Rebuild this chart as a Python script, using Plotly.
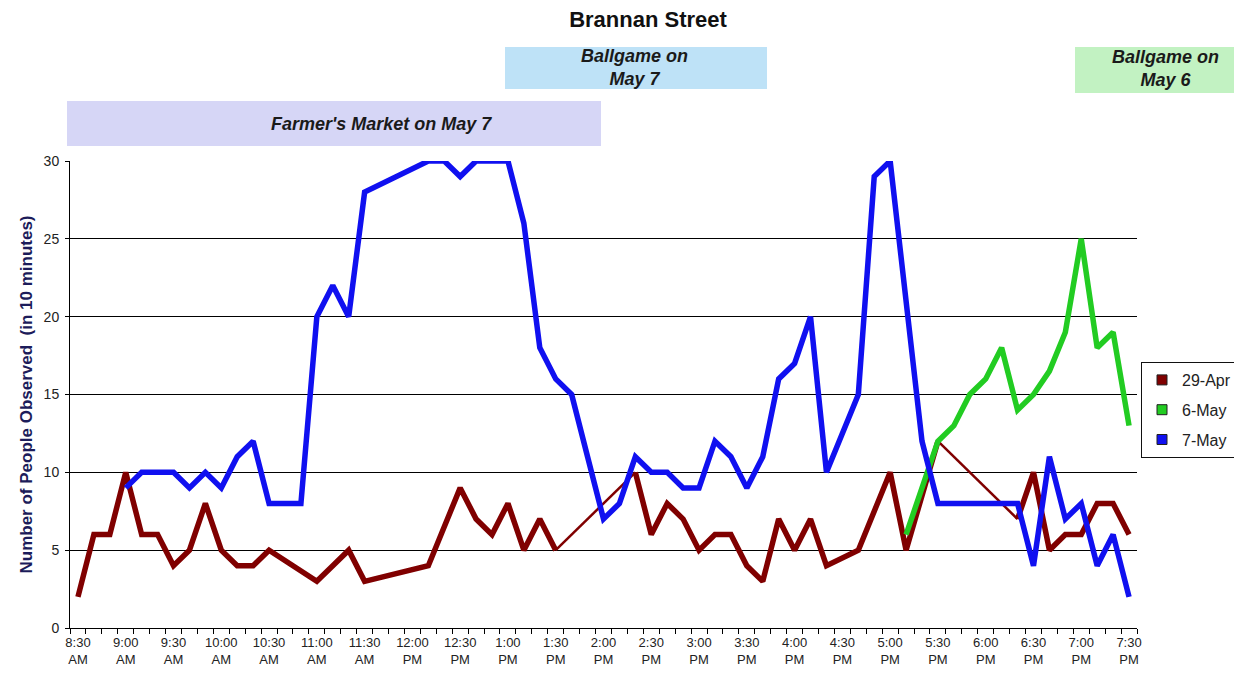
import plotly.graph_objects as go

# ---------------- data ----------------
times = [
    "8:30 AM", "8:40 AM", "8:50 AM", "9:00 AM", "9:10 AM", "9:20 AM",
    "9:30 AM", "9:40 AM", "9:50 AM", "10:00 AM", "10:10 AM", "10:20 AM",
    "10:30 AM", "10:40 AM", "10:50 AM", "11:00 AM", "11:10 AM", "11:20 AM",
    "11:30 AM", "11:40 AM", "11:50 AM", "12:00 PM", "12:10 PM", "12:20 PM",
    "12:30 PM", "12:40 PM", "12:50 PM", "1:00 PM", "1:10 PM", "1:20 PM",
    "1:30 PM", "1:40 PM", "1:50 PM", "2:00 PM", "2:10 PM", "2:20 PM",
    "2:30 PM", "2:40 PM", "2:50 PM", "3:00 PM", "3:10 PM", "3:20 PM",
    "3:30 PM", "3:40 PM", "3:50 PM", "4:00 PM", "4:10 PM", "4:20 PM",
    "4:30 PM", "4:40 PM", "4:50 PM", "5:00 PM", "5:10 PM", "5:20 PM",
    "5:30 PM", "5:40 PM", "5:50 PM", "6:00 PM", "6:10 PM", "6:20 PM",
    "6:30 PM", "6:40 PM", "6:50 PM", "7:00 PM", "7:10 PM", "7:20 PM",
    "7:30 PM",
]

tick_labels = [
    "8:30 AM", "9:00 AM", "9:30 AM", "10:00 AM", "10:30 AM", "11:00 AM",
    "11:30 AM", "12:00 PM", "12:30 PM", "1:00 PM", "1:30 PM", "2:00 PM",
    "2:30 PM", "3:00 PM", "3:30 PM", "4:00 PM", "4:30 PM", "5:00 PM",
    "5:30 PM", "6:00 PM", "6:30 PM", "7:00 PM", "7:30 PM",
]

N = None
apr29 = [2, 6, 6, 10, 6, 6, 4, 5, 8, 5, 4, 4,
         5, N, N, 3, 4, 5, 3, N, N, N, 4, N,
         9, 7, 6, 8, 5, 7, 5, N, N, N, N, 10,
         6, 8, 7, 5, 6, 6, 4, 3, 7, 5, 7, 4,
         N, 5, N, 10, 5, N, 12, N, N, N, N, 7,
         10, 5, 6, 6, 8, 8, 6]

may6 = [N] * 52 + [6, N, 12, 13, 15, 16, 18, 14, 15, 16.5, 19, 25, 18, 19, 13]

may7 = [N, N, N, 9, 10, 10, 10, 9, 10, 9, 11, 12,
        8, 8, 8, 20, 22, 20, 28, N, N, N, 30, 30,
        29, 30, 30, 30, 26, 18, 16, 15, 11, 7, 8, 11,
        10, 10, 9, 9, 12, 11, 9, 11, 16, 17, 20, 10,
        N, 15, 29, 30, 21, 12, 8, 8, 8, 8, 8, 8,
        4, 11, 7, 8, 4, 6, 2]

# thin connector segments of the 29-Apr line (start, end)
apr29_thin = [("1:30 PM", "2:20 PM"), ("5:30 PM", "6:20 PM")]

series = [
    ("29-Apr", apr29, "#800000", apr29_thin),
    ("6-May", may6, "#22CC22", []),
    ("7-May", may7, "#1010F0", []),
]

# ---------------- layout geometry ----------------
W, H = 1234, 674
L, R, T, B = 70, 1137, 161, 628


def px_x(p):
    return (p - L) / (R - L)


def px_y(p):
    return (B - p) / (B - T)


fig = go.Figure()

for name, vals, color, thin in series:
    thin_idx = [(times.index(a), times.index(b)) for a, b in thin]
    starts = {a for a, b in thin_idx}
    xs, ys = [], []
    for i, v in enumerate(vals):
        if v is None:
            continue
        xs.append(i)
        ys.append(v)
        if i in starts:
            xs.append(None)
            ys.append(None)
    for a, b in thin_idx:
        fig.add_trace(go.Scatter(
            x=[a, b], y=[vals[a], vals[b]], mode="lines",
            line=dict(color=color, width=2.5), showlegend=False,
            hoverinfo="skip"))
    fig.add_trace(go.Scatter(
        x=xs, y=ys, mode="lines", name=name,
        line=dict(color=color, width=5.5, shape="linear"),
        connectgaps=False, showlegend=False))

# legend entries (square swatches)
for k, (name, vals, color, thin) in enumerate(series):
    fig.add_trace(go.Scatter(
        x=[None], y=[None], mode="markers", name=name,
        legendgroup="g%d" % k,
        marker=dict(symbol="square", size=10, color=color,
                    line=dict(color="#202020", width=1))))

tick_idx = [times.index(t) for t in tick_labels]
tick_text = [t.replace(" ", "<br>") for t in tick_labels]

fig.update_layout(
    width=W, height=H,
    paper_bgcolor="white", plot_bgcolor="white",
    margin=dict(l=L, r=W - R, t=T, b=H - B, autoexpand=False),
    font=dict(family="Liberation Sans, Arial, sans-serif", color="#222222"),
    title=dict(text="<b>Brannan Street</b>", x=648 / W, xref="container",
               xanchor="center", y=1 - 19 / H, yanchor="middle",
               font=dict(size=22, color="#111111",
                         family="Liberation Sans, Arial, sans-serif")),
    showlegend=True,
    legend=dict(x=px_x(1141), y=px_y(362), xanchor="left", yanchor="top",
                bordercolor="#111111", borderwidth=1, bgcolor="white",
                font=dict(size=16, family="Liberation Sans, Arial, sans-serif",
                          color="#222222"),
                tracegroupgap=6, itemwidth=30),
    xaxis=dict(
        range=[-0.5, len(times) - 0.5], showgrid=False, zeroline=False,
        showline=True, linecolor="black", linewidth=1,
        tickmode="array", tickvals=tick_idx, ticktext=tick_text,
        ticks="", tickfont=dict(size=13, color="#222222"),
        ticklabelstandoff=2,
        minor=dict(tickmode="linear", tick0=-0.5, dtick=1, ticks="outside",
                   ticklen=5, tickcolor="black", tickwidth=1, showgrid=False),
    ),
    yaxis=dict(
        range=[0, 30], dtick=5, tick0=0, showgrid=True, gridcolor="black",
        gridwidth=1, zeroline=False, showline=True, linecolor="black",
        linewidth=1, ticks="outside", ticklen=4, tickcolor="black",
        tickfont=dict(size=14, color="#222222"), ticklabelstandoff=3,
        title=dict(text="<b>Number of People Observed  (in 10 minutes)</b>",
                   font=dict(size=17, color="#1C1C5A"), standoff=6),
    ),
)

boxes = [
    (67, 601, 101, 146, "#D6D6F6"),
    (505, 767, 47, 89, "#BEE2F7"),
    (1075, 1240, 47, 93, "#C2F2C2"),
]
for x0, x1, y0, y1, fill in boxes:
    fig.add_shape(type="rect", xref="paper", yref="paper",
                  x0=px_x(x0), x1=px_x(x1), y0=px_y(y1), y1=px_y(y0),
                  fillcolor=fill, line=dict(width=0), layer="below")

notes = [
    (381, 124, "Farmer's Market on May 7"),
    (634, 67, "Ballgame on<br>May 7"),
    (1165, 68, "Ballgame on<br>May 6"),
]
for cx, cy, text in notes:
    fig.add_annotation(x=px_x(cx), y=px_y(cy), xref="paper", yref="paper",
                       xanchor="center", yanchor="middle",
                       text="<b><i>%s</i></b>" % text, showarrow=False,
                       font=dict(size=18, color="#1A1A1A"))

fig.write_html(
    "out.html",
    config={"displayModeBar": False},
    post_script="document.body.style.margin='0';"
                "document.body.style.overflow='hidden';",
)
